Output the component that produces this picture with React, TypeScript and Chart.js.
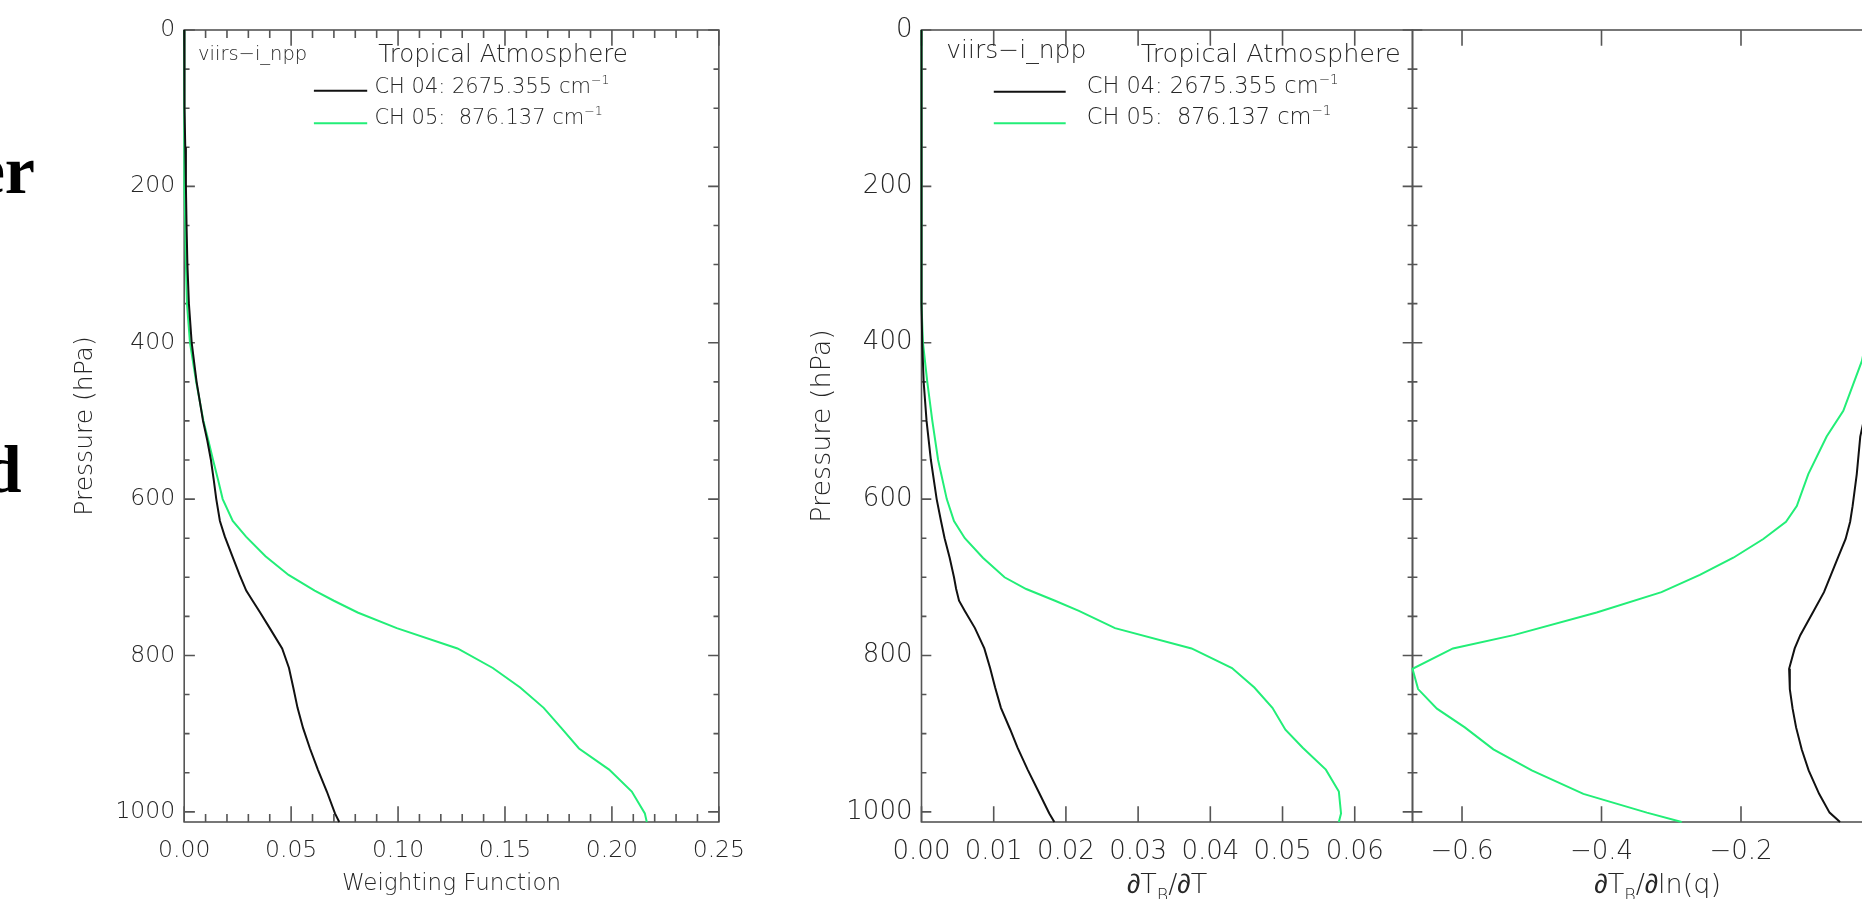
import React, { useEffect, useRef } from "react";
import { Chart, registerables } from "chart.js";

Chart.register(...registerables);

// ---------------- data ----------------
// Left panel: weighting functions
const wfPressure = [0, 50, 100, 150, 200, 250, 300, 350, 400, 450, 500, 525, 550, 575, 600, 628, 648, 673, 697, 717, 730, 745, 765, 791, 816, 841, 867, 893, 919, 946, 974, 1002, 1013];
const wfCh04 = [0, 0, 0.0003, 0.0005, 0.0008, 0.0011, 0.0015, 0.0022, 0.0035, 0.0058, 0.0088, 0.0108, 0.0125, 0.0138, 0.015, 0.0167, 0.019, 0.0225, 0.0259, 0.029, 0.032, 0.0355, 0.04, 0.0458, 0.049, 0.051, 0.053, 0.0556, 0.0588, 0.0625, 0.0667, 0.0705, 0.0725];
const wfCh05 = [0, 0, 0, 0, 0.0003, 0.0005, 0.0008, 0.0013, 0.0027, 0.0056, 0.009, 0.0113, 0.0135, 0.0158, 0.018, 0.0227, 0.0289, 0.038, 0.0488, 0.061, 0.07, 0.0811, 0.0994, 0.1278, 0.1443, 0.1571, 0.1681, 0.1764, 0.1846, 0.1987, 0.2093, 0.2154, 0.2163];

// Middle panel: dTb/dT
const tbtPressure = [0, 50, 100, 150, 200, 250, 300, 350, 400, 450, 500, 550, 600, 628, 650, 675, 700, 715, 730, 743, 765, 791, 816, 841, 867, 895, 918, 946, 974, 1002, 1013];
const tbtCh04 = [0, 0, 0, 0, 0, 0, 0, 0, 0.0001, 0.0003, 0.0007, 0.0013, 0.0021, 0.0027, 0.0032, 0.0039, 0.0045, 0.0048, 0.0052, 0.006, 0.0074, 0.0087, 0.0095, 0.0102, 0.011, 0.0123, 0.0133, 0.0147, 0.0162, 0.0177, 0.0184];
const tbtCh05 = [0, 0, 0, 0, 0, 0, 0, 0, 0.0002, 0.0008, 0.0015, 0.0023, 0.0035, 0.0045, 0.006, 0.0085, 0.0115, 0.0145, 0.0185, 0.0218, 0.0268, 0.0374, 0.043, 0.0461, 0.0486, 0.0504, 0.0528, 0.056, 0.0578, 0.0581, 0.0578];

// Right panel: dTb/dln(q)
const tbqPressure = [0, 200, 300, 350, 423, 487, 520, 568, 609, 629, 651, 675, 697, 719, 745, 774, 791, 817, 843, 868, 892, 920, 947, 977, 1001, 1013];
const tbqCh04 = [0, 0, -0.001, -0.003, -0.009, -0.021, -0.029, -0.034, -0.04, -0.0435, -0.05, -0.061, -0.071, -0.081, -0.097, -0.115, -0.123, -0.131, -0.13, -0.126, -0.121, -0.113, -0.103, -0.088, -0.073, -0.058];
const tbqCh05 = [0, 0, -0.003, -0.01, -0.0265, -0.0533, -0.0772, -0.1035, -0.12, -0.1355, -0.168, -0.211, -0.259, -0.314, -0.407, -0.526, -0.613, -0.671, -0.663, -0.636, -0.596, -0.555, -0.5, -0.426, -0.335, -0.285];

// Axis ticks and labels
const pressureTicks = [0, 200, 400, 600, 800, 1000];
const pressureMinor = [50, 100, 150, 250, 300, 350, 450, 500, 550, 650, 700, 750, 850, 900, 950];
const wfTicks = [0, 0.05, 0.1, 0.15, 0.2, 0.25];
const wfMinor = [0.01, 0.02, 0.03, 0.04, 0.06, 0.07, 0.08, 0.09, 0.11, 0.12, 0.13, 0.14, 0.16, 0.17, 0.18, 0.19, 0.21, 0.22, 0.23, 0.24];
const tbtTicks = [0, 0.01, 0.02, 0.03, 0.04, 0.05, 0.06];
const tbqTicks = [-0.6, -0.4, -0.2, 0];

const channelLabels = ["CH 04: 2675.355 cm", "CH 05:  876.137 cm"];
const sensorLabel = "viirs\u2212i_npp";
const profileLabel = "Tropical Atmosphere";

// ---------------- styling ----------------
const FONT = '"DejaVu Sans", "Liberation Sans", sans-serif';
const WEIGHT = "200";
const TEXT = "#262626";
const AXIS = "#555555";
const BLACK = "#111111";
const GREEN = "#22ee77";
const TOP = 30;
const BOTTOM = 822;
const PAGE_H = 899;
const PMAX = 1013;

type Seg = { t: string; scale?: number; dy?: number };

function fontOf(size: number) {
  return `${WEIGHT} ${size}px ${FONT}`;
}

function drawRich(ctx: CanvasRenderingContext2D, segs: Seg[], x: number, y: number, size: number, align: "left" | "center") {
  const widths = segs.map((s) => {
    ctx.font = fontOf(size * (s.scale ?? 1));
    return ctx.measureText(s.t).width;
  });
  const total = widths.reduce((a, b) => a + b, 0);
  let cx = align === "center" ? x - total / 2 : x;
  ctx.textAlign = "left";
  ctx.textBaseline = "alphabetic";
  segs.forEach((s, i) => {
    ctx.font = fontOf(size * (s.scale ?? 1));
    ctx.fillText(s.t, cx, y + (s.dy ?? 0) * size);
    cx += widths[i];
  });
}

function drawVertical(ctx: CanvasRenderingContext2D, text: string, cx: number, cy: number, size: number) {
  ctx.save();
  ctx.translate(cx, cy);
  ctx.rotate(-Math.PI / 2);
  ctx.font = fontOf(size);
  ctx.textAlign = "center";
  ctx.textBaseline = "middle";
  ctx.fillText(text, 0, 0);
  ctx.restore();
}

function drawLegend(ctx: CanvasRenderingContext2D, off: number, lineX0: number, lineX1: number, textX: number, ys: number[], bases: number[], size: number) {
  const colors = [BLACK, GREEN];
  colors.forEach((c, i) => {
    ctx.strokeStyle = c;
    ctx.lineWidth = 2;
    ctx.beginPath();
    ctx.moveTo(lineX0 - off, ys[i]);
    ctx.lineTo(lineX1 - off, ys[i]);
    ctx.stroke();
    ctx.fillStyle = TEXT;
    drawRich(ctx, [{ t: channelLabels[i] }, { t: "\u22121", scale: 0.6, dy: -0.42 }], textX - off, bases[i], size, "left");
  });
}

interface Spec {
  canvasLeft: number;
  canvasWidth: number;
  areaLeft: number;
  areaRight: number;
  xMin: number;
  xMax: number;
  xTicks: number[];
  xMinor: number[];
  decimals: number;
  yLabels: boolean;
  tickSize: number;
  pressure: number[];
  ch04: number[];
  ch05: number[];
  text: (ctx: CanvasRenderingContext2D, area: { left: number; right: number; top: number; bottom: number }, off: number) => void;
}

function buildConfig(spec: Spec): any {
  const toPts = (vals: number[]) => spec.pressure.map((p, i) => ({ x: vals[i], y: p }));
  const plugin = {
    id: "idlFrame",
    beforeDatasetsDraw(chart: any) {
      const { ctx, chartArea: a, scales } = chart;
      const x = scales.x;
      const y = scales.y;
      ctx.save();
      ctx.strokeStyle = AXIS;
      ctx.lineWidth = 1.6;
      ctx.strokeRect(a.left, a.top, a.right - a.left, a.bottom - a.top);
      const xl = 0.02 * (a.bottom - a.top);
      const yl = 0.02 * (a.right - a.left);
      ctx.beginPath();
      const vx = (v: number, len: number) => {
        const px = x.getPixelForValue(v);
        ctx.moveTo(px, a.bottom);
        ctx.lineTo(px, a.bottom - len);
        ctx.moveTo(px, a.top);
        ctx.lineTo(px, a.top + len);
      };
      spec.xTicks.forEach((v) => vx(v, xl));
      spec.xMinor.forEach((v) => vx(v, xl / 2));
      const hy = (v: number, len: number) => {
        const py = y.getPixelForValue(v);
        ctx.moveTo(a.left, py);
        ctx.lineTo(a.left + len, py);
        ctx.moveTo(a.right, py);
        ctx.lineTo(a.right - len, py);
      };
      pressureTicks.forEach((v) => hy(v, yl));
      pressureMinor.forEach((v) => hy(v, yl / 2));
      ctx.stroke();
      ctx.restore();
    },
    afterDatasetsDraw(chart: any) {
      const ctx = chart.ctx;
      ctx.save();
      ctx.fillStyle = TEXT;
      spec.text(ctx, chart.chartArea, spec.canvasLeft);
      ctx.restore();
    },
  };
  return {
    type: "scatter",
    data: {
      datasets: [
        { data: toPts(spec.ch04), borderColor: BLACK, borderWidth: 2, showLine: true, pointRadius: 0, clip: false },
        { data: toPts(spec.ch05), borderColor: GREEN, borderWidth: 2, showLine: true, pointRadius: 0, clip: false },
      ],
    },
    options: {
      animation: false,
      responsive: false,
      devicePixelRatio: 1,
      events: [],
      layout: { padding: { left: 0, top: TOP, right: spec.canvasLeft + spec.canvasWidth - spec.areaRight, bottom: 0 } },
      plugins: { legend: { display: false }, tooltip: { enabled: false }, title: { display: false } },
      scales: {
        x: {
          type: "linear",
          min: spec.xMin,
          max: spec.xMax,
          afterBuildTicks: (s: any) => {
            s.ticks = spec.xTicks.map((v) => ({ value: v }));
          },
          ticks: {
            font: { family: FONT, size: spec.tickSize, weight: WEIGHT },
            color: TEXT,
            padding: 15,
            maxRotation: 0,
            autoSkip: false,
            callback: (v: any) => Number(v).toFixed(spec.decimals).replace("-", "\u2212"),
          },
          grid: { display: false, drawTicks: false },
          border: { display: false },
          afterFit: (s: any) => {
            s.height = PAGE_H - BOTTOM;
          },
        },
        y: {
          type: "linear",
          min: 0,
          max: PMAX,
          reverse: true,
          afterBuildTicks: (s: any) => {
            s.ticks = pressureTicks.map((v) => ({ value: v }));
          },
          ticks: {
            display: spec.yLabels,
            font: { family: FONT, size: spec.tickSize, weight: WEIGHT },
            color: TEXT,
            padding: 9,
            autoSkip: false,
            callback: (v: any) => String(v),
          },
          grid: { display: false, drawTicks: false },
          border: { display: false },
          afterFit: (s: any) => {
            s.width = spec.areaLeft - spec.canvasLeft;
          },
        },
      },
    },
    plugins: [plugin],
  };
}

const specA: Spec = {
  canvasLeft: 0,
  canvasWidth: 760,
  areaLeft: 184.2,
  areaRight: 724,
  xMin: 0,
  xMax: 0.25,
  xTicks: wfTicks,
  xMinor: wfMinor,
  decimals: 2,
  yLabels: true,
  tickSize: 23.5,
  pressure: wfPressure,
  ch04: wfCh04,
  ch05: wfCh05,
  text: (ctx, a, off) => {
    drawRich(ctx, [{ t: sensorLabel }], 198 - off, 59.5, 19.5, "left");
    drawRich(ctx, [{ t: profileLabel }], 378.3 - off, 61.7, 24.5, "left");
    drawLegend(ctx, off, 313.9, 367.2, 374.4, [90.7, 123.3], [93.3, 124], 21);
    drawRich(ctx, [{ t: "Weighting Function" }], (a.left + a.right) / 2, 890, 23, "center");
    drawVertical(ctx, "Pressure (hPa)", 85 - off, (a.top + a.bottom) / 2, 25);
  },
};

const specB: Spec = {
  canvasLeft: 740,
  canvasWidth: 700,
  areaLeft: 921.5,
  areaRight: 1412.5,
  xMin: 0,
  xMax: 0.068,
  xTicks: tbtTicks,
  xMinor: [],
  decimals: 2,
  yLabels: true,
  tickSize: 26,
  pressure: tbtPressure,
  ch04: tbtCh04,
  ch05: tbtCh05,
  text: (ctx, a, off) => {
    drawRich(ctx, [{ t: sensorLabel }], 946.3 - off, 58.3, 25, "left");
    drawRich(ctx, [{ t: profileLabel }], 1140.8 - off, 61.7, 25.5, "left");
    drawLegend(ctx, off, 993.8, 1065.7, 1086.7, [91.7, 123.3], [93.3, 124], 22.5);
    drawRich(ctx, [{ t: "\u2202T" }, { t: "B", scale: 0.65, dy: 0.3 }, { t: "/\u2202T" }], (a.left + a.right) / 2, 893, 27, "center");
    drawVertical(ctx, "Pressure (hPa)", 823 - off, (a.top + a.bottom) / 2, 27);
  },
};

const specC: Spec = {
  canvasLeft: 1390,
  canvasWidth: 560,
  areaLeft: 1412.5,
  areaRight: 1902.8,
  xMin: -0.671,
  xMax: 0.032,
  xTicks: tbqTicks,
  xMinor: [],
  decimals: 1,
  yLabels: false,
  tickSize: 26,
  pressure: tbqPressure,
  ch04: tbqCh04,
  ch05: tbqCh05,
  text: (ctx, a, off) => {
    drawRich(ctx, [{ t: "\u2202T" }, { t: "B", scale: 0.65, dy: 0.3 }, { t: "/\u2202ln(q)" }], (a.left + a.right) / 2, 893, 27, "center");
  },
};

const specs = [specA, specB, specC];

export default function App() {
  const refs = [useRef<HTMLCanvasElement>(null), useRef<HTMLCanvasElement>(null), useRef<HTMLCanvasElement>(null)];

  useEffect(() => {
    const charts = specs.map((s, i) => new Chart(refs[i].current as HTMLCanvasElement, buildConfig(s)));
    return () => charts.forEach((c) => c.destroy());
  }, []);

  const serif: React.CSSProperties = {
    position: "absolute",
    fontFamily: '"Liberation Serif", "Times New Roman", serif',
    fontWeight: "bold",
    fontSize: 68,
    lineHeight: "68px",
    color: "#000",
    whiteSpace: "nowrap",
    transform: "translateX(-100%)",
  };

  return (
    <div style={{ position: "fixed", left: 0, top: 0, width: 1862, height: 899, overflow: "hidden", background: "#fff" }}>
      <div style={{ ...serif, left: 35, top: 136 }}>er</div>
      <div style={{ ...serif, left: 21.7, top: 435 }}>d</div>
      {specs.map((s, i) => (
        <canvas
          key={i}
          ref={refs[i]}
          width={s.canvasWidth}
          height={PAGE_H}
          style={{ position: "absolute", left: s.canvasLeft, top: 0, width: s.canvasWidth, height: PAGE_H }}
        />
      ))}
    </div>
  );
}
